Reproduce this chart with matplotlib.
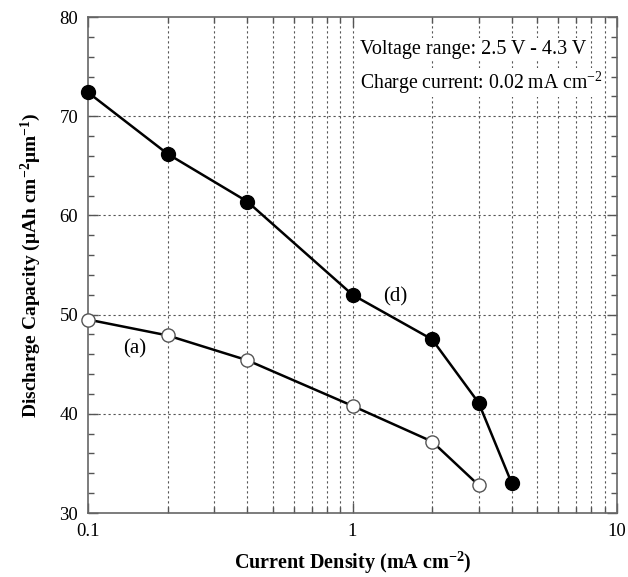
import matplotlib
matplotlib.use("Agg")
import matplotlib.pyplot as plt
from matplotlib.ticker import LogLocator, MultipleLocator, FixedLocator, NullFormatter, FixedFormatter

plt.rcParams['font.family'] = ['Liberation Serif', 'DejaVu Serif']
plt.rcParams['mathtext.fontset'] = 'custom'
plt.rcParams['mathtext.rm'] = 'Liberation Serif'
plt.rcParams['mathtext.it'] = 'Liberation Serif:italic'
plt.rcParams['mathtext.bf'] = 'Liberation Serif:bold'

# Data
current_d = [0.1, 0.2, 0.4, 1, 2, 3, 4]
capacity_d = [72.4, 66.2, 61.4, 52.0, 47.5, 41.1, 33.0]
current_a = [0.1, 0.2, 0.4, 1, 2, 3]
capacity_a = [49.5, 47.9, 45.4, 40.8, 37.2, 32.8]
xticks = [0.1, 1, 10]
xticklabels = ['0.1', '1', '10']
yticks = [30, 40, 50, 60, 70, 80]

fig = plt.figure(figsize=(6.28, 5.77), dpi=100)
ax = fig.add_axes([88/628, 1-513/577, (617-88)/628, (513-17)/577])

ax.set_xscale('log')
ax.set_xlim(0.1, 10)
ax.set_ylim(30, 80)

grid_kw = dict(color='#555555', linestyle=(0, (2, 2.5)), linewidth=0.8, zorder=0)
for v in [0.2, 0.3, 0.4, 0.5, 0.6, 0.7, 0.8, 0.9, 1, 2, 3, 4, 5, 6, 7, 8, 9]:
    ax.axvline(v, **grid_kw)
for v in [40, 50, 60, 70]:
    ax.axhline(v, **grid_kw)

ax.plot(current_d, capacity_d, color='black', linewidth=1.8, marker='o',
        markersize=10, markerfacecolor='black', markeredgecolor='black', zorder=3,
        clip_on=False)
ax.plot(current_a, capacity_a, color='black', linewidth=1.8, marker='o',
        markersize=9.5, markerfacecolor='white', markeredgecolor='#555555',
        markeredgewidth=1.0, zorder=3, clip_on=False)

ax.xaxis.set_major_locator(FixedLocator(xticks))
ax.xaxis.set_major_formatter(FixedFormatter(xticklabels))
ax.xaxis.set_minor_locator(LogLocator(base=10, subs=range(2, 10)))
ax.xaxis.set_minor_formatter(NullFormatter())
ax.yaxis.set_major_locator(FixedLocator(yticks))
ax.yaxis.set_minor_locator(MultipleLocator(2))

ax.tick_params(which='both', direction='in', top=True, right=True,
               labelsize=13.5, color='#555555', width=1.0)
ax.tick_params(which='major', length=7, pad=7)
ax.tick_params(which='minor', length=4)
for s in ax.spines.values():
    s.set_color('#666666')
    s.set_linewidth(1.2)

ax.set_xlabel(r'Current Density (mA cm$^{\mathbf{-2}}$)', fontsize=14.5,
              fontweight='bold', labelpad=7)
ax.set_ylabel(r'Discharge Capacity (μAh cm$^{\mathbf{-2}}$μm$^{\mathbf{-1}}$)',
              fontsize=14, fontweight='bold', labelpad=12)

box = dict(facecolor='white', edgecolor='none', pad=1.0)
ax.text(0.515, 0.935, 'Voltage range: 2.5 V - 4.3 V', transform=ax.transAxes,
        fontsize=14.5, va='center', ha='left', bbox=box)
ax.text(0.515, 0.868, r'Charge current: 0.02 mA cm$^{-2}$', transform=ax.transAxes,
        fontsize=14.2, va='center', ha='left', bbox=box)
ax.text(1.45, 51.8, '(d)', fontsize=15, ha='center', va='center')
ax.text(0.15, 46.5, '(a)', fontsize=15, ha='center', va='center')

fig.savefig('out.png', dpi=100)
